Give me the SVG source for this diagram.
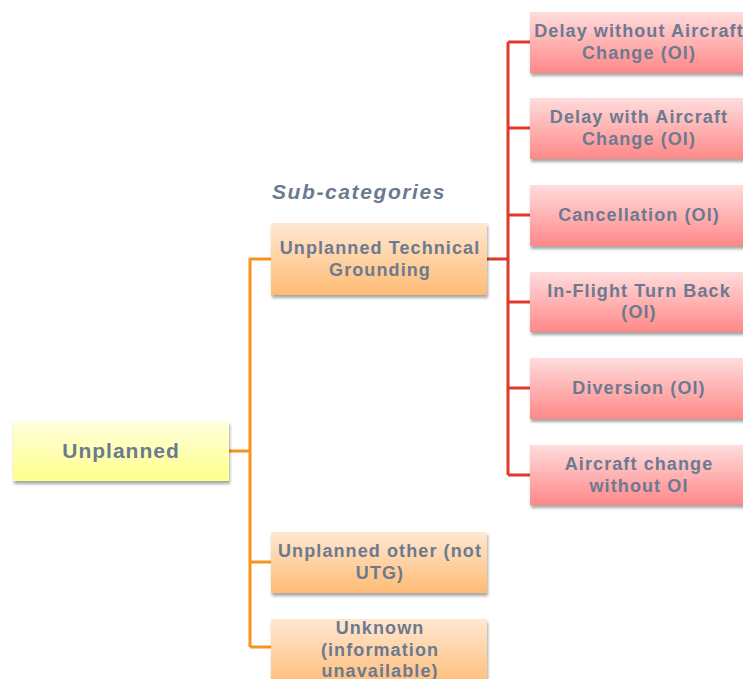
<svg xmlns="http://www.w3.org/2000/svg" width="743" height="679" viewBox="0 0 743 679">
  <defs>
    <linearGradient id="gYellow" x1="0" y1="0" x2="0" y2="1">
      <stop offset="0" stop-color="#ffffdc"/>
      <stop offset="1" stop-color="#ffff8c"/>
    </linearGradient>
    <linearGradient id="gOrange" x1="0" y1="0" x2="0" y2="1">
      <stop offset="0" stop-color="#ffe8d2"/>
      <stop offset="1" stop-color="#ffbb74"/>
    </linearGradient>
    <linearGradient id="gRed" x1="0" y1="0" x2="0" y2="1">
      <stop offset="0" stop-color="#ffdcdc"/>
      <stop offset="1" stop-color="#ff8888"/>
    </linearGradient>
    <filter id="shadow" x="-10%" y="-10%" width="120%" height="130%">
      <feGaussianBlur in="SourceAlpha" stdDeviation="1.5"/>
      <feOffset dx="1" dy="3" result="b"/>
      <feComponentTransfer><feFuncA type="linear" slope="0.35"/></feComponentTransfer>
      <feMerge><feMergeNode/><feMergeNode in="SourceGraphic"/></feMerge>
    </filter>
  </defs>
  <style>
    .lbl { font-family: "Liberation Sans", Arial, sans-serif; font-weight: bold; font-size: 18px; letter-spacing: 1.1px; fill: #6b7a90; text-anchor: middle; }
    .big { font-size: 21px; letter-spacing: 1px; }
    .hdr { font-family: "Liberation Sans", Arial, sans-serif; font-weight: bold; font-style: italic; font-size: 21px; letter-spacing: 1.6px; fill: #6b7a90; }
    .org { fill: none; stroke: #f7941d; stroke-width: 3; }
    .red { fill: none; stroke: #e0392b; stroke-width: 3; }
    .yb { fill: url(#gYellow); filter: url(#shadow); }
    .ob { fill: url(#gOrange); filter: url(#shadow); }
    .rb { fill: url(#gRed); filter: url(#shadow); }
  </style>

  <g id="connectors">
    <!-- root to sub-categories -->
    <path class="org" d="M229,451 H250 M250,258 V647 M250,259 H271 M250,562 H271 M250,647 H271"/>
    <!-- technical grounding to outcomes -->
    <path class="red" d="M487,259 H508 M508,42 V475 M508,42 H530 M508,128 H530 M508,215 H530 M508,302 H530 M508,388 H530 M508,475 H530"/>
  </g>

  <text class="hdr" x="272" y="199">Sub-categories</text>

  <g id="unplanned">
    <rect class="yb" x="13" y="421" width="216" height="60"/>
    <text class="lbl big" x="121" y="458">Unplanned</text>
  </g>

  <g id="utg">
    <rect class="ob" x="271" y="223" width="216" height="72"/>
    <text class="lbl" x="380" y="254">Unplanned Technical</text>
    <text class="lbl" x="380" y="276">Grounding</text>
  </g>

  <g id="other">
    <rect class="ob" x="271" y="532" width="216" height="61"/>
    <text class="lbl" x="380" y="557">Unplanned other (not</text>
    <text class="lbl" x="380" y="579">UTG)</text>
  </g>

  <g id="unknown">
    <rect class="ob" x="271" y="619" width="216" height="70"/>
    <text class="lbl" x="380" y="634">Unknown</text>
    <text class="lbl" x="380" y="656">(information</text>
    <text class="lbl" x="380" y="677">unavailable)</text>
  </g>

  <g id="delay-no-change">
    <rect class="rb" x="530" y="12" width="220" height="61"/>
    <text class="lbl" x="639" y="37">Delay without Aircraft</text>
    <text class="lbl" x="639" y="59">Change (OI)</text>
  </g>

  <g id="delay-change">
    <rect class="rb" x="530" y="98" width="220" height="61"/>
    <text class="lbl" x="639" y="123">Delay with Aircraft</text>
    <text class="lbl" x="639" y="145">Change (OI)</text>
  </g>

  <g id="cancellation">
    <rect class="rb" x="530" y="185" width="220" height="61"/>
    <text class="lbl" x="639" y="221">Cancellation (OI)</text>
  </g>

  <g id="turn-back">
    <rect class="rb" x="530" y="272" width="220" height="60"/>
    <text class="lbl" x="639" y="297">In-Flight Turn Back</text>
    <text class="lbl" x="639" y="318">(OI)</text>
  </g>

  <g id="diversion">
    <rect class="rb" x="530" y="358" width="220" height="61"/>
    <text class="lbl" x="639" y="394">Diversion (OI)</text>
  </g>

  <g id="aircraft-change">
    <rect class="rb" x="530" y="445" width="220" height="60"/>
    <text class="lbl" x="639" y="470">Aircraft change</text>
    <text class="lbl" x="639" y="492">without OI</text>
  </g>
</svg>
